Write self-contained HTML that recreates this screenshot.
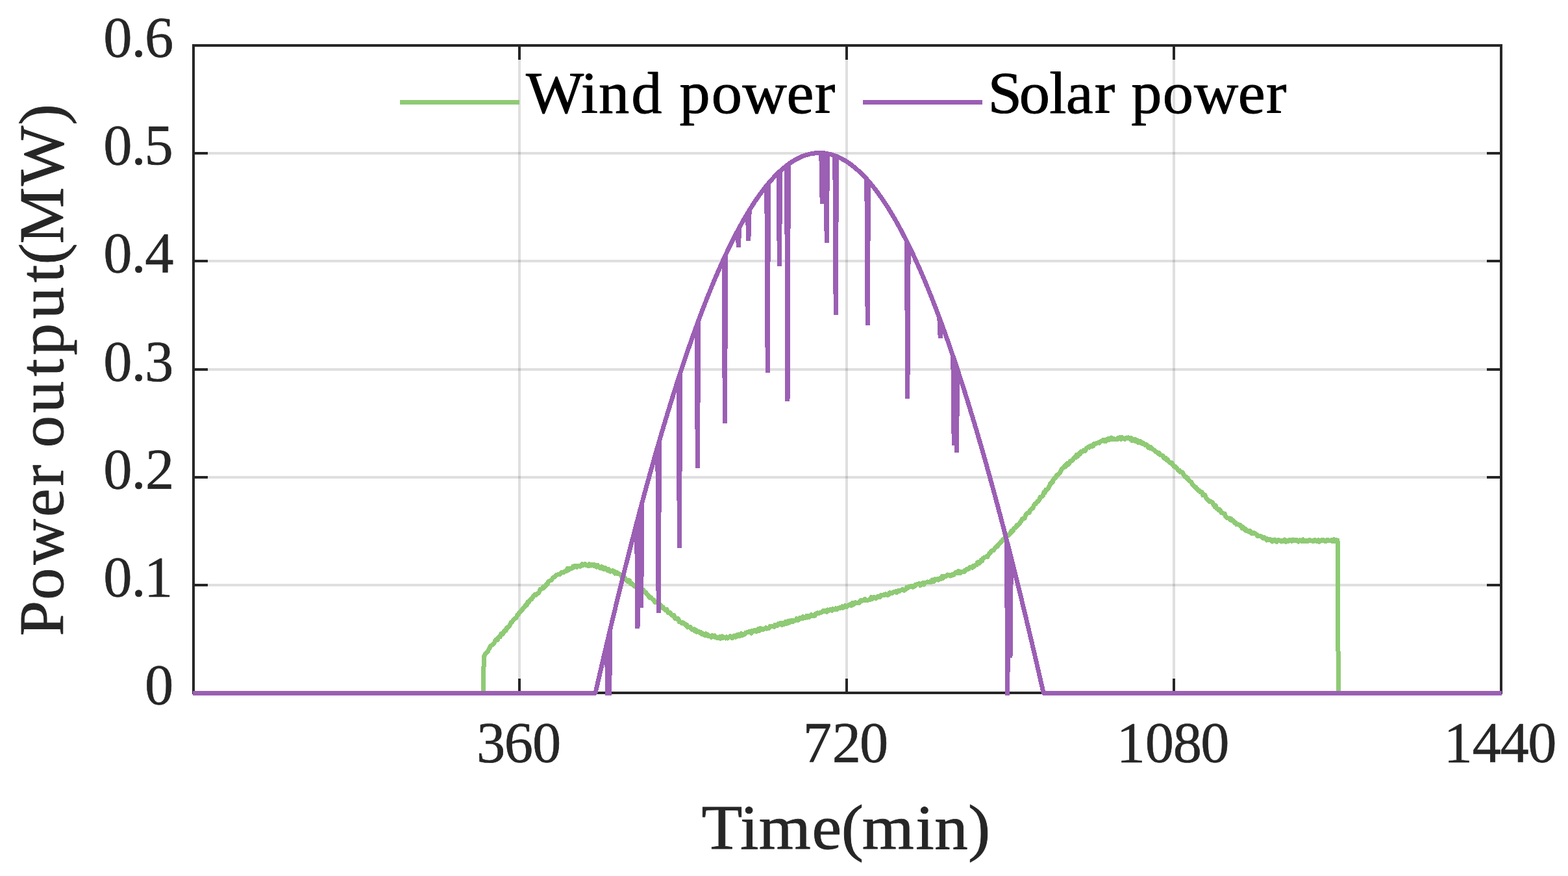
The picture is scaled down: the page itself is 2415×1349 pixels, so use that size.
<!DOCTYPE html>
<html lang="en"><head><meta charset="utf-8"><title>Wind and solar power output</title>
<style>html,body{margin:0;padding:0;background:#fff}svg{display:block}</style></head>
<body>
<svg width="2415" height="1349" viewBox="0 0 2415 1349" font-family="'Liberation Serif', serif">
<rect width="2415" height="1349" fill="#fff"/>
<g stroke="#262626" stroke-opacity="0.15" stroke-width="4" fill="none"><path d="M800.0,70.0 V1067.0"/><path d="M1304.0,70.0 V1067.0"/><path d="M1808.0,70.0 V1067.0"/><path d="M298.0,236.0 H2312.0"/><path d="M298.0,402.0 H2312.0"/><path d="M298.0,569.0 H2312.0"/><path d="M298.0,735.0 H2312.0"/><path d="M298.0,901.0 H2312.0"/></g>
<path d="M800.0,70.0 v22 M800.0,1067.0 v-22 M1304.0,70.0 v22 M1304.0,1067.0 v-22 M1808.0,70.0 v22 M1808.0,1067.0 v-22 M298.0,236.0 h22 M2312.0,236.0 h-22 M298.0,402.0 h22 M2312.0,402.0 h-22 M298.0,569.0 h22 M2312.0,569.0 h-22 M298.0,735.0 h22 M2312.0,735.0 h-22 M298.0,901.0 h22 M2312.0,901.0 h-22" stroke="#262626" stroke-width="4" fill="none"/>
<rect x="298.0" y="70.0" width="2014.0" height="997.0" fill="none" stroke="#262626" stroke-width="4"/>
<path d="M297.0,1067.5 L744.0,1067.5 L745.4,1010.5 L746.8,1008.7 L748.2,1005.7 L749.6,1005.0 L751.0,1004.1 L752.4,1000.5 L753.8,998.5 L755.2,995.0 L756.6,994.0 L758.0,993.2 L759.4,992.2 L760.8,991.1 L762.2,987.9 L763.6,985.2 L765.0,984.5 L766.4,985.3 L767.8,981.1 L769.2,980.4 L770.6,980.7 L772.0,975.8 L773.4,976.4 L774.8,976.2 L776.2,971.9 L777.6,971.5 L779.0,971.3 L780.4,966.7 L781.8,966.5 L783.2,965.7 L784.6,963.7 L786.0,961.2 L787.4,958.4 L788.8,957.7 L790.2,955.5 L791.6,954.2 L793.0,952.0 L794.4,952.1 L795.8,950.1 L797.2,946.7 L798.6,946.0 L800.0,943.1 L801.4,942.1 L802.8,940.0 L804.2,939.4 L805.6,936.6 L807.0,935.3 L808.4,934.5 L809.8,931.7 L811.2,931.9 L812.6,927.5 L814.0,928.0 L815.4,925.2 L816.8,923.7 L818.2,923.1 L819.6,921.2 L821.0,919.4 L822.4,916.5 L823.8,915.5 L825.2,916.5 L826.6,914.5 L828.0,913.8 L829.4,913.5 L830.8,911.1 L832.2,907.3 L833.6,906.9 L835.0,906.5 L836.4,903.8 L837.8,905.2 L839.2,903.7 L840.6,902.0 L842.0,899.2 L843.4,899.3 L844.8,895.3 L846.2,894.7 L847.6,894.0 L849.0,893.9 L850.4,891.7 L851.8,889.2 L853.2,888.9 L854.6,887.7 L856.0,886.6 L857.4,885.1 L858.8,885.1 L860.2,884.3 L861.6,884.7 L863.0,883.9 L864.4,882.1 L865.8,881.1 L867.2,881.5 L868.6,881.2 L870.0,879.7 L871.4,879.5 L872.8,879.3 L874.2,875.3 L875.6,877.9 L877.0,875.0 L878.4,875.2 L879.8,875.9 L881.2,875.1 L882.6,872.4 L884.0,873.9 L885.4,871.2 L886.8,871.9 L888.2,873.3 L889.6,871.5 L891.0,871.8 L892.4,872.0 L893.8,872.2 L895.2,871.7 L896.6,868.7 L898.0,870.1 L899.4,870.1 L900.8,868.4 L902.2,870.2 L903.6,870.4 L905.0,871.2 L906.4,871.7 L907.8,868.7 L909.2,869.2 L910.6,871.0 L912.0,869.1 L913.4,869.7 L914.8,871.2 L916.2,869.9 L917.6,872.5 L919.0,873.1 L920.4,870.2 L921.8,872.5 L923.2,873.9 L924.6,875.0 L926.0,872.8 L927.4,872.8 L928.8,876.0 L930.2,876.6 L931.6,874.4 L933.0,875.8 L934.4,877.4 L935.8,878.5 L937.2,876.5 L938.6,878.9 L940.0,880.1 L941.4,879.7 L942.8,878.8 L944.2,878.9 L945.6,880.5 L947.0,883.1 L948.4,880.9 L949.8,881.4 L951.2,883.5 L952.6,883.1 L954.0,884.1 L955.4,884.4 L956.8,887.2 L958.2,888.7 L959.6,888.6 L961.0,888.4 L962.4,890.1 L963.8,892.0 L965.2,894.3 L966.6,895.5 L968.0,893.7 L969.4,893.8 L970.8,898.0 L972.2,899.4 L973.6,898.7 L975.0,900.9 L976.4,902.3 L977.8,902.3 L979.2,904.2 L980.6,901.8 L982.0,903.6 L983.4,904.5 L984.8,904.7 L986.2,908.6 L987.6,906.1 L989.0,909.4 L990.4,908.1 L991.8,910.3 L993.2,911.6 L994.6,912.0 L996.0,914.7 L997.4,916.3 L998.8,917.1 L1000.2,920.3 L1001.6,919.5 L1003.0,920.8 L1004.4,922.5 L1005.8,923.5 L1007.2,923.7 L1008.6,927.3 L1010.0,927.9 L1011.4,926.1 L1012.8,928.1 L1014.2,928.7 L1015.6,930.6 L1017.0,931.1 L1018.4,933.1 L1019.8,935.9 L1021.2,935.0 L1022.6,937.2 L1024.0,938.1 L1025.4,939.8 L1026.8,938.3 L1028.2,942.1 L1029.6,944.0 L1031.0,943.8 L1032.4,943.7 L1033.8,946.3 L1035.2,947.6 L1036.6,948.5 L1038.0,947.7 L1039.4,952.0 L1040.8,953.0 L1042.2,952.2 L1043.6,954.0 L1045.0,953.0 L1046.4,957.7 L1047.8,958.2 L1049.2,958.5 L1050.6,960.0 L1052.0,958.8 L1053.4,960.2 L1054.8,960.9 L1056.2,963.1 L1057.6,962.1 L1059.0,966.0 L1060.4,965.2 L1061.8,966.0 L1063.2,965.5 L1064.6,968.5 L1066.0,969.7 L1067.4,969.7 L1068.8,969.0 L1070.2,971.8 L1071.6,970.0 L1073.0,973.2 L1074.4,972.9 L1075.8,972.4 L1077.2,973.9 L1078.6,974.9 L1080.0,974.0 L1081.4,976.8 L1082.8,975.7 L1084.2,978.0 L1085.6,978.2 L1087.0,975.9 L1088.4,978.4 L1089.8,977.6 L1091.2,979.6 L1092.6,979.2 L1094.0,979.3 L1095.4,981.3 L1096.8,978.4 L1098.2,980.5 L1099.6,979.9 L1101.0,979.0 L1102.4,981.8 L1103.8,981.3 L1105.2,982.6 L1106.6,981.6 L1108.0,980.7 L1109.4,983.2 L1110.8,980.0 L1112.2,979.8 L1113.6,982.4 L1115.0,981.0 L1116.4,981.0 L1117.8,982.9 L1119.2,980.8 L1120.6,983.0 L1122.0,982.0 L1123.4,980.8 L1124.8,979.7 L1126.2,980.2 L1127.6,982.8 L1129.0,980.3 L1130.4,979.0 L1131.8,979.2 L1133.2,981.1 L1134.6,977.9 L1136.0,979.8 L1137.4,977.0 L1138.8,979.8 L1140.2,977.8 L1141.6,975.6 L1143.0,978.7 L1144.4,976.2 L1145.8,977.3 L1147.2,976.2 L1148.6,974.2 L1150.0,973.9 L1151.4,973.7 L1152.8,973.4 L1154.2,972.5 L1155.6,972.1 L1157.0,975.1 L1158.4,971.4 L1159.8,972.6 L1161.2,970.7 L1162.6,970.6 L1164.0,972.2 L1165.4,972.5 L1166.8,970.3 L1168.2,968.1 L1169.6,971.4 L1171.0,967.4 L1172.4,968.3 L1173.8,968.5 L1175.2,969.5 L1176.6,969.0 L1178.0,967.9 L1179.4,966.8 L1180.8,968.2 L1182.2,968.0 L1183.6,967.8 L1185.0,966.9 L1186.4,964.2 L1187.8,964.6 L1189.2,964.9 L1190.6,964.5 L1192.0,965.3 L1193.4,962.5 L1194.8,963.7 L1196.2,962.1 L1197.6,963.2 L1199.0,960.6 L1200.4,961.3 L1201.8,959.6 L1203.2,959.7 L1204.6,962.2 L1206.0,959.6 L1207.4,961.5 L1208.8,959.8 L1210.2,957.6 L1211.6,960.2 L1213.0,957.0 L1214.4,959.5 L1215.8,956.0 L1217.2,958.0 L1218.6,955.6 L1220.0,955.8 L1221.4,957.7 L1222.8,955.4 L1224.2,955.6 L1225.6,955.5 L1227.0,952.7 L1228.4,955.1 L1229.8,955.0 L1231.2,951.7 L1232.6,952.8 L1234.0,951.5 L1235.4,952.8 L1236.8,949.8 L1238.2,951.2 L1239.6,951.9 L1241.0,951.3 L1242.4,948.5 L1243.8,950.9 L1245.2,948.3 L1246.6,950.1 L1248.0,948.5 L1249.4,946.8 L1250.8,948.6 L1252.2,948.5 L1253.6,947.6 L1255.0,948.2 L1256.4,945.1 L1257.8,944.6 L1259.2,943.9 L1260.6,944.9 L1262.0,943.9 L1263.4,943.3 L1264.8,943.2 L1266.2,942.1 L1267.6,940.6 L1269.0,941.9 L1270.4,940.7 L1271.8,940.9 L1273.2,942.3 L1274.6,939.1 L1276.0,940.4 L1277.4,940.1 L1278.8,938.4 L1280.2,938.8 L1281.6,940.4 L1283.0,937.7 L1284.4,938.8 L1285.8,938.9 L1287.2,936.8 L1288.6,938.8 L1290.0,937.1 L1291.4,936.3 L1292.8,936.7 L1294.2,935.3 L1295.6,936.0 L1297.0,934.0 L1298.4,936.1 L1299.8,934.3 L1301.2,932.8 L1302.6,933.1 L1304.0,934.5 L1305.4,933.7 L1306.8,932.1 L1308.2,931.1 L1309.6,930.8 L1311.0,932.6 L1312.4,928.8 L1313.8,931.3 L1315.2,930.7 L1316.6,927.8 L1318.0,927.8 L1319.4,928.1 L1320.8,928.5 L1322.2,928.6 L1323.6,928.3 L1325.0,925.2 L1326.4,924.4 L1327.8,925.1 L1329.2,924.9 L1330.6,924.9 L1332.0,922.4 L1333.4,924.1 L1334.8,924.8 L1336.2,924.4 L1337.6,924.1 L1339.0,923.7 L1340.4,923.5 L1341.8,919.7 L1343.2,922.7 L1344.6,919.9 L1346.0,919.8 L1347.4,919.9 L1348.8,921.5 L1350.2,919.8 L1351.6,918.5 L1353.0,918.2 L1354.4,919.9 L1355.8,919.2 L1357.2,916.3 L1358.6,916.3 L1360.0,916.4 L1361.4,915.5 L1362.8,916.4 L1364.2,914.8 L1365.6,915.7 L1367.0,916.7 L1368.4,916.0 L1369.8,912.8 L1371.2,912.8 L1372.6,913.2 L1374.0,913.7 L1375.4,912.3 L1376.8,911.4 L1378.2,911.3 L1379.6,910.4 L1381.0,912.4 L1382.4,911.4 L1383.8,909.8 L1385.2,910.5 L1386.6,909.4 L1388.0,908.9 L1389.4,907.8 L1390.8,907.8 L1392.2,909.3 L1393.6,908.0 L1395.0,907.7 L1396.4,904.6 L1397.8,905.6 L1399.2,904.6 L1400.6,903.1 L1402.0,903.8 L1403.4,902.1 L1404.8,902.3 L1406.2,904.1 L1407.6,903.2 L1409.0,902.9 L1410.4,900.1 L1411.8,900.1 L1413.2,899.1 L1414.6,899.1 L1416.0,898.7 L1417.4,901.6 L1418.8,901.0 L1420.2,898.0 L1421.6,897.8 L1423.0,900.1 L1424.4,898.2 L1425.8,897.0 L1427.2,897.0 L1428.6,895.9 L1430.0,896.6 L1431.4,896.7 L1432.8,895.5 L1434.2,896.2 L1435.6,893.1 L1437.0,894.5 L1438.4,895.5 L1439.8,891.9 L1441.2,892.7 L1442.6,892.8 L1444.0,891.2 L1445.4,893.1 L1446.8,890.8 L1448.2,890.3 L1449.6,891.5 L1451.0,887.6 L1452.4,890.4 L1453.8,887.2 L1455.2,887.7 L1456.6,887.6 L1458.0,887.1 L1459.4,885.0 L1460.8,885.6 L1462.2,885.3 L1463.6,887.1 L1465.0,886.5 L1466.4,884.8 L1467.8,885.7 L1469.2,885.0 L1470.6,882.7 L1472.0,881.3 L1473.4,882.7 L1474.8,881.2 L1476.2,879.6 L1477.6,882.9 L1479.0,882.5 L1480.4,880.4 L1481.8,880.3 L1483.2,880.1 L1484.6,880.7 L1486.0,878.5 L1487.4,878.5 L1488.8,876.6 L1490.2,876.1 L1491.6,876.6 L1493.0,874.8 L1494.4,873.3 L1495.8,873.7 L1497.2,874.3 L1498.6,871.6 L1500.0,872.8 L1501.4,871.2 L1502.8,870.1 L1504.2,870.0 L1505.6,866.0 L1507.0,865.4 L1508.4,867.2 L1509.8,866.3 L1511.2,862.1 L1512.6,863.8 L1514.0,859.9 L1515.4,859.3 L1516.8,858.1 L1518.2,857.7 L1519.6,856.8 L1521.0,857.6 L1522.4,854.6 L1523.8,852.1 L1525.2,851.4 L1526.6,849.1 L1528.0,847.8 L1529.4,848.0 L1530.8,846.9 L1532.2,844.5 L1533.6,843.5 L1535.0,841.0 L1536.4,841.6 L1537.8,839.1 L1539.2,836.7 L1540.6,836.5 L1542.0,833.9 L1543.4,832.8 L1544.8,830.7 L1546.2,831.8 L1547.6,828.4 L1549.0,829.6 L1550.4,826.1 L1551.8,823.7 L1553.2,824.3 L1554.6,823.0 L1556.0,822.1 L1557.4,817.8 L1558.8,818.8 L1560.2,817.6 L1561.6,814.0 L1563.0,813.0 L1564.4,812.1 L1565.8,809.1 L1567.2,809.9 L1568.6,807.7 L1570.0,806.8 L1571.4,803.7 L1572.8,802.4 L1574.2,799.6 L1575.6,798.5 L1577.0,798.6 L1578.4,797.9 L1579.8,793.3 L1581.2,791.4 L1582.6,789.8 L1584.0,789.6 L1585.4,789.4 L1586.8,785.5 L1588.2,784.8 L1589.6,783.2 L1591.0,782.7 L1592.4,778.4 L1593.8,776.0 L1595.2,776.1 L1596.6,773.8 L1598.0,771.7 L1599.4,771.8 L1600.8,769.6 L1602.2,765.5 L1603.6,765.5 L1605.0,764.6 L1606.4,763.2 L1607.8,757.8 L1609.2,759.0 L1610.6,754.2 L1612.0,754.7 L1613.4,752.5 L1614.8,751.8 L1616.2,748.7 L1617.6,744.6 L1619.0,744.9 L1620.4,741.4 L1621.8,741.7 L1623.2,736.8 L1624.6,736.0 L1626.0,735.5 L1627.4,731.7 L1628.8,731.8 L1630.2,730.2 L1631.6,728.7 L1633.0,727.6 L1634.4,724.2 L1635.8,721.7 L1637.2,720.7 L1638.6,719.8 L1640.0,717.2 L1641.4,718.4 L1642.8,714.6 L1644.2,713.3 L1645.6,715.4 L1647.0,713.6 L1648.4,710.2 L1649.8,709.3 L1651.2,709.8 L1652.6,707.7 L1654.0,705.1 L1655.4,704.5 L1656.8,704.9 L1658.2,700.4 L1659.6,703.1 L1661.0,700.3 L1662.4,697.8 L1663.8,699.2 L1665.2,695.4 L1666.6,695.7 L1668.0,695.4 L1669.4,693.2 L1670.8,694.7 L1672.2,693.1 L1673.6,690.1 L1675.0,689.2 L1676.4,688.0 L1677.8,689.0 L1679.2,686.7 L1680.6,687.3 L1682.0,687.5 L1683.4,687.0 L1684.8,683.4 L1686.2,683.5 L1687.6,683.2 L1689.0,682.4 L1690.4,681.9 L1691.8,681.5 L1693.2,682.1 L1694.6,679.9 L1696.0,679.5 L1697.4,679.2 L1698.8,677.8 L1700.2,679.1 L1701.6,677.8 L1703.0,679.4 L1704.4,678.6 L1705.8,676.0 L1707.2,675.7 L1708.6,677.5 L1710.0,676.4 L1711.4,674.1 L1712.8,676.2 L1714.2,675.1 L1715.6,676.4 L1717.0,676.2 L1718.4,676.7 L1719.8,675.8 L1721.2,676.5 L1722.6,674.1 L1724.0,674.3 L1725.4,673.3 L1726.8,676.4 L1728.2,673.7 L1729.6,675.2 L1731.0,675.1 L1732.4,676.3 L1733.8,674.8 L1735.2,674.0 L1736.6,675.0 L1738.0,673.9 L1739.4,675.1 L1740.8,676.6 L1742.2,674.7 L1743.6,678.5 L1745.0,677.1 L1746.4,676.6 L1747.8,679.1 L1749.2,676.9 L1750.6,678.1 L1752.0,681.0 L1753.4,678.9 L1754.8,681.4 L1756.2,679.6 L1757.6,682.0 L1759.0,683.2 L1760.4,682.1 L1761.8,683.3 L1763.2,684.8 L1764.6,685.7 L1766.0,684.8 L1767.4,686.6 L1768.8,689.6 L1770.2,687.8 L1771.6,690.4 L1773.0,689.0 L1774.4,690.8 L1775.8,691.9 L1777.2,693.0 L1778.6,694.4 L1780.0,695.6 L1781.4,696.2 L1782.8,697.6 L1784.2,699.0 L1785.6,697.9 L1787.0,700.9 L1788.4,700.9 L1789.8,701.1 L1791.2,702.0 L1792.6,705.4 L1794.0,706.2 L1795.4,705.2 L1796.8,708.3 L1798.2,707.4 L1799.6,709.9 L1801.0,711.7 L1802.4,713.1 L1803.8,712.3 L1805.2,713.0 L1806.6,716.2 L1808.0,718.2 L1809.4,719.3 L1810.8,718.8 L1812.2,720.8 L1813.6,722.6 L1815.0,724.4 L1816.4,724.2 L1817.8,727.0 L1819.2,726.2 L1820.6,727.1 L1822.0,728.8 L1823.4,731.9 L1824.8,734.0 L1826.2,734.0 L1827.6,736.4 L1829.0,735.8 L1830.4,738.7 L1831.8,739.9 L1833.2,741.4 L1834.6,742.0 L1836.0,745.1 L1837.4,746.7 L1838.8,748.0 L1840.2,749.8 L1841.6,750.1 L1843.0,753.0 L1844.4,753.3 L1845.8,755.8 L1847.2,755.4 L1848.6,757.8 L1850.0,757.2 L1851.4,758.1 L1852.8,762.7 L1854.2,761.9 L1855.6,762.0 L1857.0,765.5 L1858.4,768.1 L1859.8,768.8 L1861.2,771.0 L1862.6,772.2 L1864.0,771.8 L1865.4,772.4 L1866.8,773.2 L1868.2,775.3 L1869.6,778.1 L1871.0,780.5 L1872.4,778.5 L1873.8,782.9 L1875.2,784.1 L1876.6,785.2 L1878.0,784.4 L1879.4,785.4 L1880.8,789.2 L1882.2,790.1 L1883.6,790.2 L1885.0,791.2 L1886.4,791.1 L1887.8,795.8 L1889.2,796.3 L1890.6,797.8 L1892.0,798.2 L1893.4,797.9 L1894.8,800.4 L1896.2,799.0 L1897.6,801.9 L1899.0,801.3 L1900.4,802.9 L1901.8,805.8 L1903.2,805.1 L1904.6,807.9 L1906.0,807.8 L1907.4,807.6 L1908.8,808.4 L1910.2,808.3 L1911.6,811.3 L1913.0,813.2 L1914.4,811.7 L1915.8,813.5 L1917.2,816.2 L1918.6,814.8 L1920.0,817.7 L1921.4,818.1 L1922.8,817.6 L1924.2,819.0 L1925.6,817.6 L1927.0,820.1 L1928.4,821.8 L1929.8,820.5 L1931.2,820.5 L1932.6,821.1 L1934.0,822.2 L1935.4,823.1 L1936.8,825.8 L1938.2,825.1 L1939.6,825.9 L1941.0,825.6 L1942.4,826.1 L1943.8,827.6 L1945.2,828.9 L1946.6,827.3 L1948.0,828.8 L1949.4,830.2 L1950.8,831.9 L1952.2,829.8 L1953.6,830.7 L1955.0,831.7 L1956.4,830.4 L1957.8,832.4 L1959.2,833.9 L1960.6,831.4 L1962.0,832.3 L1963.4,831.0 L1964.8,832.5 L1966.2,834.3 L1967.6,832.7 L1969.0,831.5 L1970.4,831.9 L1971.8,833.1 L1973.2,834.0 L1974.6,832.4 L1976.0,832.6 L1977.4,833.8 L1978.8,831.1 L1980.2,834.3 L1981.6,832.5 L1983.0,832.0 L1984.4,833.7 L1985.8,831.7 L1987.2,831.3 L1988.6,831.7 L1990.0,833.3 L1991.4,831.1 L1992.8,832.4 L1994.2,831.6 L1995.6,832.8 L1997.0,831.2 L1998.4,833.6 L1999.8,834.2 L2001.2,831.9 L2002.6,832.0 L2004.0,833.0 L2005.4,833.5 L2006.8,830.9 L2008.2,833.3 L2009.6,833.8 L2011.0,833.7 L2012.4,832.4 L2013.8,833.8 L2015.2,832.8 L2016.6,831.4 L2018.0,831.8 L2019.4,833.0 L2020.8,832.8 L2022.2,833.7 L2023.6,833.4 L2025.0,831.5 L2026.4,832.2 L2027.8,833.7 L2029.2,832.4 L2030.6,831.6 L2032.0,834.3 L2033.4,832.4 L2034.8,831.9 L2036.2,832.6 L2037.6,831.8 L2039.0,831.7 L2040.4,833.2 L2041.8,833.7 L2043.2,832.3 L2044.6,831.3 L2046.0,832.5 L2047.4,832.2 L2048.8,832.4 L2050.2,831.6 L2051.6,833.6 L2053.0,831.5 L2054.4,830.8 L2055.8,833.4 L2057.2,833.5 L2058.6,831.6 L2060.0,832.6" stroke="#8fca75" stroke-width="7" fill="none" stroke-linejoin="round" shape-rendering="crispEdges"/>
<path d="M2060.0,832.6 L2061.4,1067.5" stroke="#8fca75" stroke-width="7" fill="none" stroke-linecap="square" shape-rendering="crispEdges"/>
<path d="M297.0,1067.5 L916.2,1067.5 L917.6,1064.9 L919.0,1058.7 L920.4,1052.6 L921.8,1046.4 L923.2,1040.3 L924.6,1034.2 L926.0,1028.2 L927.4,1022.1 L928.8,1016.1 L930.2,1010.1 L931.6,1004.1 L933.0,998.1 L934.4,992.1 L935.8,986.1 L937.2,980.2 L938.6,974.3 L940.0,968.4 L941.4,962.5 L942.8,956.7 L944.2,950.8 L945.6,945.0 L947.0,939.2 L948.4,933.4 L949.8,927.6 L951.2,921.9 L952.6,916.1 L954.0,910.4 L955.4,904.7 L956.8,899.0 L958.2,893.4 L959.6,887.7 L961.0,882.1 L962.4,876.5 L963.8,870.9 L965.2,865.4 L966.6,859.8 L968.0,854.3 L969.4,848.8 L970.8,843.3 L972.2,837.8 L973.6,832.4 L975.0,827.0 L976.4,821.6 L977.8,816.2 L979.2,810.8 L980.6,805.5 L982.0,800.1 L983.4,794.8 L984.8,789.5 L986.2,784.3 L987.6,779.0 L989.0,773.8 L990.4,768.6 L991.8,763.4 L993.2,758.3 L994.6,753.1 L996.0,748.0 L997.4,742.9 L998.8,737.8 L1000.2,732.8 L1001.6,727.7 L1003.0,722.7 L1004.4,717.7 L1005.8,712.8 L1007.2,707.8 L1008.6,702.9 L1010.0,698.0 L1011.4,693.1 L1012.8,688.2 L1014.2,683.4 L1015.6,678.6 L1017.0,673.8 L1018.4,669.0 L1019.8,664.3 L1021.2,659.6 L1022.6,654.9 L1024.0,650.2 L1025.4,645.5 L1026.8,640.9 L1028.2,636.3 L1029.6,631.7 L1031.0,627.1 L1032.4,622.6 L1033.8,618.1 L1035.2,613.6 L1036.6,609.1 L1038.0,604.6 L1039.4,600.2 L1040.8,595.8 L1042.2,591.4 L1043.6,587.1 L1045.0,582.8 L1046.4,578.4 L1047.8,574.2 L1049.2,569.9 L1050.6,565.7 L1052.0,561.5 L1053.4,557.3 L1054.8,553.1 L1056.2,549.0 L1057.6,544.9 L1059.0,540.8 L1060.4,536.7 L1061.8,532.7 L1063.2,528.6 L1064.6,524.7 L1066.0,520.7 L1067.4,516.8 L1068.8,512.8 L1070.2,508.9 L1071.6,505.1 L1073.0,501.2 L1074.4,497.4 L1075.8,493.6 L1077.2,489.9 L1078.6,486.1 L1080.0,482.4 L1081.4,478.7 L1082.8,475.1 L1084.2,471.4 L1085.6,467.8 L1087.0,464.2 L1088.4,460.7 L1089.8,457.1 L1091.2,453.6 L1092.6,450.2 L1094.0,446.7 L1095.4,443.3 L1096.8,439.9 L1098.2,436.5 L1099.6,433.1 L1101.0,429.8 L1102.4,426.5 L1103.8,423.3 L1105.2,420.0 L1106.6,416.8 L1108.0,413.6 L1109.4,410.4 L1110.8,407.3 L1112.2,404.2 L1113.6,401.1 L1115.0,398.1 L1116.4,395.0 L1117.8,392.0 L1119.2,389.0 L1120.6,386.1 L1122.0,383.2 L1123.4,380.3 L1124.8,377.4 L1126.2,374.6 L1127.6,371.8 L1129.0,369.0 L1130.4,366.2 L1131.8,363.5 L1133.2,360.8 L1134.6,358.1 L1136.0,355.5 L1137.4,352.9 L1138.8,350.3 L1140.2,347.7 L1141.6,345.2 L1143.0,342.7 L1144.4,340.2 L1145.8,337.7 L1147.2,335.3 L1148.6,332.9 L1150.0,330.6 L1151.4,328.2 L1152.8,325.9 L1154.2,323.6 L1155.6,321.4 L1157.0,319.2 L1158.4,317.0 L1159.8,314.8 L1161.2,312.7 L1162.6,310.5 L1164.0,308.5 L1165.4,306.4 L1166.8,304.4 L1168.2,302.4 L1169.6,300.4 L1171.0,298.5 L1172.4,296.6 L1173.8,294.7 L1175.2,292.9 L1176.6,291.0 L1178.0,289.2 L1179.4,287.5 L1180.8,285.7 L1182.2,284.0 L1183.6,282.3 L1185.0,280.7 L1186.4,279.1 L1187.8,277.5 L1189.2,275.9 L1190.6,274.4 L1192.0,272.9 L1193.4,271.4 L1194.8,270.0 L1196.2,268.6 L1197.6,267.2 L1199.0,265.8 L1200.4,264.5 L1201.8,263.2 L1203.2,261.9 L1204.6,260.7 L1206.0,259.5 L1207.4,258.3 L1208.8,257.2 L1210.2,256.0 L1211.6,254.9 L1213.0,253.9 L1214.4,252.9 L1215.8,251.8 L1217.2,250.9 L1218.6,249.9 L1220.0,249.0 L1221.4,248.1 L1222.8,247.3 L1224.2,246.5 L1225.6,245.7 L1227.0,244.9 L1228.4,244.2 L1229.8,243.5 L1231.2,242.8 L1232.6,242.1 L1234.0,241.5 L1235.4,240.9 L1236.8,240.4 L1238.2,239.9 L1239.6,239.4 L1241.0,238.9 L1242.4,238.5 L1243.8,238.1 L1245.2,237.7 L1246.6,237.3 L1248.0,237.0 L1249.4,236.7 L1250.8,236.5 L1252.2,236.2 L1253.6,236.1 L1255.0,235.9 L1256.4,235.7 L1257.8,235.6 L1259.2,235.6 L1260.6,235.5 L1262.0,235.5 L1263.4,235.5 L1264.8,235.6 L1266.2,235.6 L1267.6,235.7 L1269.0,235.9 L1270.4,236.0 L1271.8,236.2 L1273.2,236.4 L1274.6,236.7 L1276.0,237.0 L1277.4,237.3 L1278.8,237.6 L1280.2,238.0 L1281.6,238.4 L1283.0,238.8 L1284.4,239.3 L1285.8,239.8 L1287.2,240.3 L1288.6,240.9 L1290.0,241.4 L1291.4,242.1 L1292.8,242.7 L1294.2,243.4 L1295.6,244.1 L1297.0,244.8 L1298.4,245.6 L1299.8,246.3 L1301.2,247.2 L1302.6,248.0 L1304.0,248.9 L1305.4,249.8 L1306.8,250.7 L1308.2,251.7 L1309.6,252.7 L1311.0,253.7 L1312.4,254.8 L1313.8,255.9 L1315.2,257.0 L1316.6,258.1 L1318.0,259.3 L1319.4,260.5 L1320.8,261.8 L1322.2,263.0 L1323.6,264.3 L1325.0,265.6 L1326.4,267.0 L1327.8,268.4 L1329.2,269.8 L1330.6,271.2 L1332.0,272.7 L1333.4,274.2 L1334.8,275.7 L1336.2,277.3 L1337.6,278.9 L1339.0,280.5 L1340.4,282.1 L1341.8,283.8 L1343.2,285.5 L1344.6,287.2 L1346.0,289.0 L1347.4,290.8 L1348.8,292.6 L1350.2,294.4 L1351.6,296.3 L1353.0,298.2 L1354.4,300.2 L1355.8,302.1 L1357.2,304.1 L1358.6,306.1 L1360.0,308.2 L1361.4,310.3 L1362.8,312.4 L1364.2,314.5 L1365.6,316.7 L1367.0,318.8 L1368.4,321.1 L1369.8,323.3 L1371.2,325.6 L1372.6,327.9 L1374.0,330.2 L1375.4,332.6 L1376.8,335.0 L1378.2,337.4 L1379.6,339.8 L1381.0,342.3 L1382.4,344.8 L1383.8,347.4 L1385.2,349.9 L1386.6,352.5 L1388.0,355.1 L1389.4,357.7 L1390.8,360.4 L1392.2,363.1 L1393.6,365.8 L1395.0,368.6 L1396.4,371.4 L1397.8,374.2 L1399.2,377.0 L1400.6,379.9 L1402.0,382.8 L1403.4,385.7 L1404.8,388.6 L1406.2,391.6 L1407.6,394.6 L1409.0,397.6 L1410.4,400.7 L1411.8,403.8 L1413.2,406.9 L1414.6,410.0 L1416.0,413.1 L1417.4,416.3 L1418.8,419.5 L1420.2,422.8 L1421.6,426.1 L1423.0,429.3 L1424.4,432.7 L1425.8,436.0 L1427.2,439.4 L1428.6,442.8 L1430.0,446.2 L1431.4,449.7 L1432.8,453.1 L1434.2,456.6 L1435.6,460.2 L1437.0,463.7 L1438.4,467.3 L1439.8,470.9 L1441.2,474.5 L1442.6,478.2 L1444.0,481.9 L1445.4,485.6 L1446.8,489.3 L1448.2,493.1 L1449.6,496.9 L1451.0,500.7 L1452.4,504.5 L1453.8,508.4 L1455.2,512.3 L1456.6,516.2 L1458.0,520.1 L1459.4,524.1 L1460.8,528.1 L1462.2,532.1 L1463.6,536.1 L1465.0,540.2 L1466.4,544.3 L1467.8,548.4 L1469.2,552.5 L1470.6,556.7 L1472.0,560.9 L1473.4,565.1 L1474.8,569.3 L1476.2,573.6 L1477.6,577.8 L1479.0,582.1 L1480.4,586.5 L1481.8,590.8 L1483.2,595.2 L1484.6,599.6 L1486.0,604.0 L1487.4,608.5 L1488.8,612.9 L1490.2,617.4 L1491.6,621.9 L1493.0,626.5 L1494.4,631.0 L1495.8,635.6 L1497.2,640.2 L1498.6,644.9 L1500.0,649.5 L1501.4,654.2 L1502.8,658.9 L1504.2,663.6 L1505.6,668.4 L1507.0,673.1 L1508.4,677.9 L1509.8,682.7 L1511.2,687.6 L1512.6,692.4 L1514.0,697.3 L1515.4,702.2 L1516.8,707.1 L1518.2,712.1 L1519.6,717.0 L1521.0,722.0 L1522.4,727.0 L1523.8,732.1 L1525.2,737.1 L1526.6,742.2 L1528.0,747.3 L1529.4,752.4 L1530.8,757.5 L1532.2,762.7 L1533.6,767.9 L1535.0,773.1 L1536.4,778.3 L1537.8,783.5 L1539.2,788.8 L1540.6,794.1 L1542.0,799.4 L1543.4,804.7 L1544.8,810.0 L1546.2,815.4 L1547.6,820.8 L1549.0,826.2 L1550.4,831.6 L1551.8,837.1 L1553.2,842.5 L1554.6,848.0 L1556.0,853.5 L1557.4,859.0 L1558.8,864.6 L1560.2,870.1 L1561.6,875.7 L1563.0,881.3 L1564.4,886.9 L1565.8,892.6 L1567.2,898.2 L1568.6,903.9 L1570.0,909.6 L1571.4,915.3 L1572.8,921.0 L1574.2,926.8 L1575.6,932.6 L1577.0,938.3 L1578.4,944.2 L1579.8,950.0 L1581.2,955.8 L1582.6,961.7 L1584.0,967.6 L1585.4,973.5 L1586.8,979.4 L1588.2,985.3 L1589.6,991.2 L1591.0,997.2 L1592.4,1003.2 L1593.8,1009.2 L1595.2,1015.2 L1596.6,1021.3 L1598.0,1027.3 L1599.4,1033.4 L1600.8,1039.5 L1602.2,1045.6 L1603.6,1051.7 L1605.0,1057.8 L1606.4,1064.0 L1607.8,1067.5 L2313.0,1067.5" stroke="#9b5fb4" stroke-width="7" fill="none" stroke-linejoin="round" shape-rendering="crispEdges"/>
<path d="M934.4,992.1 L935.8,1070.5 L937.2,980.2 M937.2,980.2 L938.6,1070.5 L940.0,968.4 M980.6,805.5 L982.0,968.0 L983.4,794.8 M986.2,784.3 L987.6,936.3 L989.0,773.8 M1012.8,688.2 L1014.2,943.5 L1015.6,678.6 M1045.0,582.8 L1046.4,843.7 L1047.8,574.2 M1073.0,501.2 L1074.4,721.4 L1075.8,493.6 M1115.0,398.1 L1116.4,651.9 L1117.8,392.0 M1136.0,355.5 L1137.4,380.7 L1138.8,350.3 M1151.4,328.2 L1152.8,370.7 L1154.2,323.6 M1180.8,285.7 L1182.2,574.4 L1183.6,282.3 M1199.0,265.8 L1200.4,410.4 L1201.8,263.2 M1211.6,254.9 L1213.0,617.6 L1214.4,252.9 M1264.8,235.6 L1266.2,313.6 L1267.6,235.7 M1271.8,236.2 L1273.2,374.0 L1274.6,236.7 M1285.8,239.8 L1287.2,485.2 L1288.6,240.9 M1334.8,275.7 L1336.2,501.4 L1337.6,278.9 M1396.4,371.4 L1397.8,613.7 L1399.2,377.0 M1446.8,489.3 L1448.2,520.5 L1449.6,496.9 M1467.8,548.4 L1469.2,686.2 L1470.6,556.7 M1472.0,560.9 L1473.4,697.4 L1474.8,569.3 M1550.4,831.6 L1551.8,1070.5 L1553.2,842.5 M1554.6,848.0 L1556.0,1012.6 L1557.4,859.0" stroke="#9b5fb4" stroke-width="7" fill="none" stroke-linejoin="bevel" shape-rendering="crispEdges"/>
<path d="M616,157.5 H800" stroke="#8fca75" stroke-width="7"/>
<path d="M1329,157.5 H1513" stroke="#9b5fb4" stroke-width="7"/>
<text transform="scale(1.05,1)" x="771.43 852.18 878.08 925.90 975.90 996.55 1043.69 1089.13 1153.92 1194.98" y="173.6" font-size="90" fill="#000" stroke="#000" stroke-width="0.9" stroke-linejoin="round">Wind power</text>
<text transform="scale(1.05,1)" x="1448.94 1495.02 1539.31 1563.57 1605.45 1640.44 1659.31 1705.50 1751.46 1815.97 1857.07" y="173.6" font-size="90" fill="#000" stroke="#000" stroke-width="0.9" stroke-linejoin="round">Solar power</text>
<text x="159.22 202.50 222.88" y="86.6" font-size="88.5" fill="#262626" stroke="#262626" stroke-width="0.6" stroke-linejoin="round">0.6</text>
<text x="159.22 202.50 222.50" y="252.6" font-size="88.5" fill="#262626" stroke="#262626" stroke-width="0.6" stroke-linejoin="round">0.5</text>
<text x="159.22 202.50 223.25" y="418.6" font-size="88.5" fill="#262626" stroke="#262626" stroke-width="0.6" stroke-linejoin="round">0.4</text>
<text x="159.22 202.50 223.00" y="585.6" font-size="88.5" fill="#262626" stroke="#262626" stroke-width="0.6" stroke-linejoin="round">0.3</text>
<text x="159.22 202.50 223.88" y="751.6" font-size="88.5" fill="#262626" stroke="#262626" stroke-width="0.6" stroke-linejoin="round">0.2</text>
<text x="159.22 202.50 222.12" y="917.6" font-size="88.5" fill="#262626" stroke="#262626" stroke-width="0.6" stroke-linejoin="round">0.1</text>
<text x="222.97" y="1083.6" font-size="88.5" fill="#262626" stroke="#262626" stroke-width="0.6" stroke-linejoin="round">0</text>
<text x="734.05 776.67 819.92" y="1172.7" font-size="88.5" fill="#262626" stroke="#262626" stroke-width="0.6" stroke-linejoin="round">360</text>
<text x="1236.80 1281.67 1323.92" y="1172.7" font-size="88.5" fill="#262626" stroke="#262626" stroke-width="0.6" stroke-linejoin="round">720</text>
<text x="1719.80 1763.80 1806.67 1849.30" y="1172.7" font-size="88.5" fill="#262626" stroke="#262626" stroke-width="0.6" stroke-linejoin="round">1080</text>
<text x="2223.80 2267.68 2310.43 2353.30" y="1172.7" font-size="88.5" fill="#262626" stroke="#262626" stroke-width="0.6" stroke-linejoin="round">1440</text>
<text transform="scale(1.05,1)" x="1028.95 1085.71 1113.01 1190.98 1234.03 1264.53 1343.04 1370.84 1420.11" y="1307" font-size="98" fill="#262626" stroke="#262626" stroke-width="0.9" stroke-linejoin="round">Time(min)</text>
<text transform="translate(96.8,1000) rotate(-90)" x="20.58 76.35 130.23 204.12 251.42 289.07 310.70 364.35 420.38 452.98 509.05 565.12 592.77 624.55 713.73 807.20" y="0" font-size="98" fill="#262626" stroke="#262626" stroke-width="0.9" stroke-linejoin="round">Power output(MW)</text>
</svg>
</body></html>
